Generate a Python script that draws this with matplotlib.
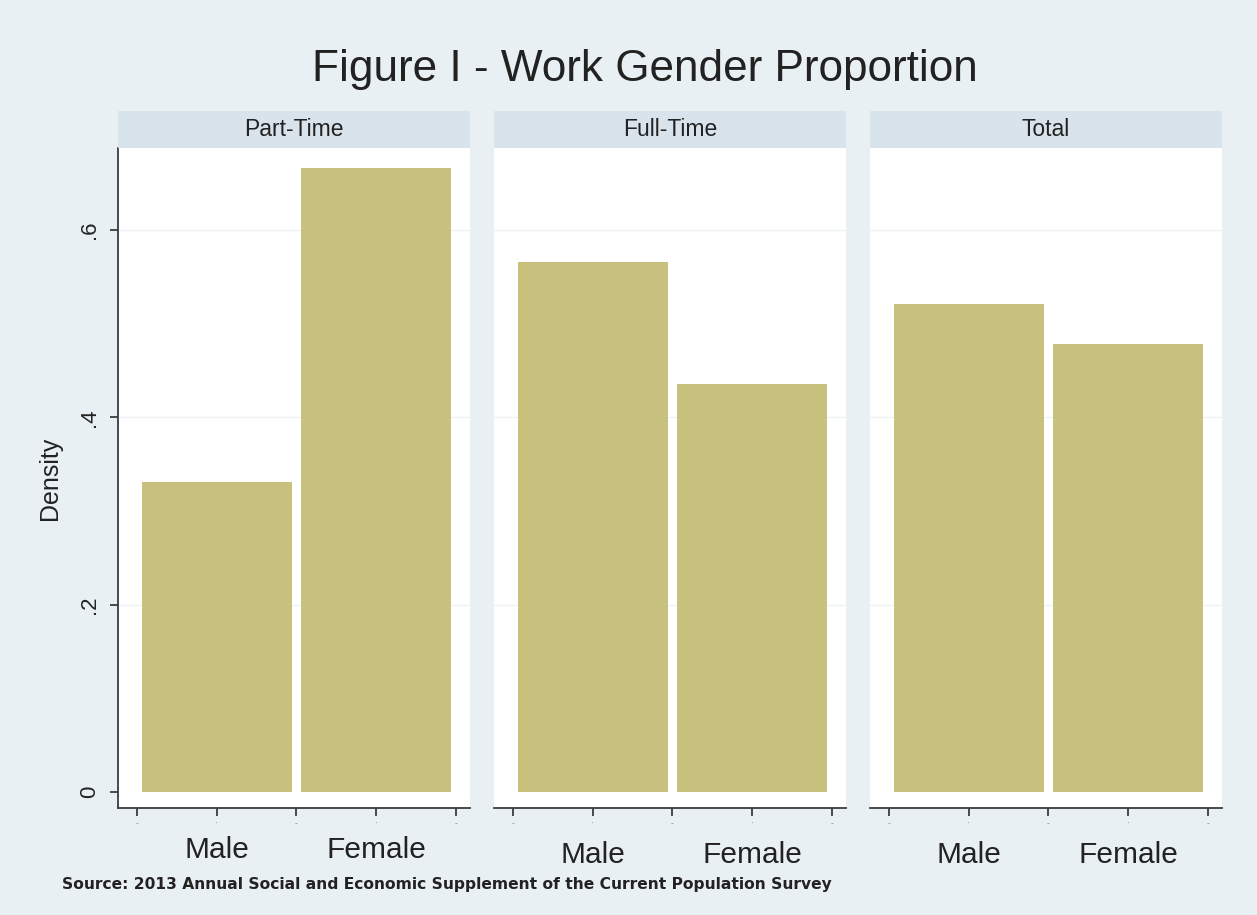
import matplotlib
matplotlib.use("Agg")
import matplotlib.pyplot as plt

plt.rcParams['font.family'] = ['Liberation Sans', 'DejaVu Sans']

panels = ["Part-Time", "Full-Time", "Total"]
categories = ["Male", "Female"]
male_density = [0.331, 0.566, 0.521]
female_density = [0.666, 0.436, 0.478]
yticks = [0, 0.2, 0.4, 0.6]
ytick_labels = ["0", ".2", ".4", ".6"]

bg = "#e9f0f3"
header = "#d8e3eb"
bar_color = "#c8c07d"
axis_color = "#3c3c3c"
text_color = "#222222"

fig = plt.figure(figsize=(12.57, 9.15), dpi=100, facecolor=bg)

lefts = [118, 494, 870]
pw = 352
bottom_px, top_px, head_px = 808, 148, 111
W, H = 1257, 915

for i, name in enumerate(panels):
    l = lefts[i] / W
    b = 1 - bottom_px / H
    h = (bottom_px - top_px) / H
    ax = fig.add_axes([l, b, pw / W, h])
    ax.set_facecolor("white")
    vals = [male_density[i], female_density[i]]
    ax.bar([1, 2], vals, width=0.94, color=bar_color, edgecolor="none", zorder=2)
    ax.set_xlim(0.38, 2.59)
    ax.set_ylim(-0.0171, 0.6877)
    for y in yticks[1:]:
        ax.axhline(y, color="#eef2f4", lw=1.0, zorder=1)
    for s in ["top", "right"]:
        ax.spines[s].set_visible(False)
    ax.spines["bottom"].set_color(axis_color)
    ax.spines["bottom"].set_linewidth(1.3)
    ax.set_xticks([0.5, 1, 1.5, 2, 2.5])
    ax.set_xticklabels(["-", "·", "-", "·", "-"], fontsize=6, color="#777777")
    ax.tick_params(axis="x", direction="out", length=6, width=1.3, color=axis_color, pad=3)
    for xc, cat in zip([1, 2], categories):
        ax.text(xc, -0.0624 if i == 0 else -0.0674, cat, ha="center", va="center",
                fontsize=21.5, color=text_color, transform=ax.transData, clip_on=False)
    if i == 0:
        ax.spines["left"].set_color(axis_color)
        ax.spines["left"].set_linewidth(1.3)
        ax.set_yticks(yticks)
        ax.set_yticklabels(ytick_labels, fontsize=16, rotation=90, va="center", color=text_color)
        ax.tick_params(axis="y", direction="out", length=6, width=1.3, color=axis_color, pad=7)
        ax.set_ylabel("Density", fontsize=18, color=text_color, labelpad=12)
    else:
        ax.spines["left"].set_visible(False)
        ax.set_yticks([])
    # header strip
    hax = fig.add_axes([l, 1 - top_px / H, pw / W, (top_px - head_px) / H])
    hax.set_facecolor(header)
    hax.set_xticks([]); hax.set_yticks([])
    for s in hax.spines.values():
        s.set_visible(False)
    hax.text(0.5, 0.5, name, ha="center", va="center", fontsize=16.5, color=text_color,
             transform=hax.transAxes)

fig.text(645 / W, 1 - 70 / H, "Figure I - Work Gender Proportion", ha="center", va="center",
         fontsize=31.8, color=text_color)
fig.text(62 / W, 1 - 885 / H,
         "Source: 2013 Annual Social and Economic Supplement of the Current Population Survey",
         ha="left", va="center", fontsize=11.2, fontweight="bold", color=text_color,
         family=["DejaVu Sans"])

fig.savefig("out.png", dpi=100, facecolor=bg)
